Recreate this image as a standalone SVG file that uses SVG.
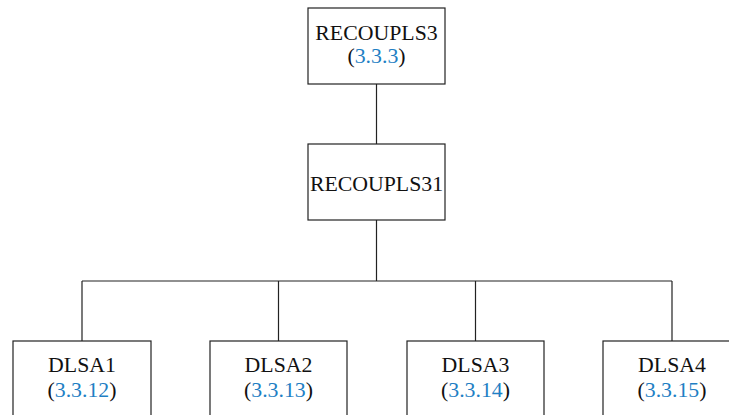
<svg xmlns="http://www.w3.org/2000/svg" width="729" height="415" viewBox="0 0 729 415">
  <style>
    .box { fill: #ffffff; stroke: #222222; stroke-width: 1.2; }
    .edge { fill: none; stroke: #222222; stroke-width: 1.2; }
    text { font-family: "Liberation Serif", "DejaVu Serif", serif; font-size: 21.8px; fill: #111111; text-anchor: middle; }
    .ref { fill: #1f7fc4; }
  </style>
  <rect width="729" height="415" fill="#ffffff"/>

  <g id="connectors">
    <path class="edge" d="M376.5 84 V144"/>
    <path class="edge" d="M376.5 220 V281 M82 281 H672 M82 281 V341 M278.5 281 V341 M475.5 281 V341 M672 281 V341"/>
  </g>

  <g id="recoupls3">
    <rect class="box" x="308" y="8" width="137" height="76"/>
    <text x="376.5" y="40">RECOUPLS3</text>
    <text x="376.5" y="63">(<tspan class="ref">3.3.3</tspan>)</text>
  </g>

  <g id="recoupls31">
    <rect class="box" x="308" y="144" width="137" height="76"/>
    <text x="376.5" y="191">RECOUPLS31</text>
  </g>

  <g id="dlsa1">
    <rect class="box" x="13" y="341" width="138" height="90"/>
    <text x="82" y="372">DLSA1</text>
    <text x="82" y="397">(<tspan class="ref">3.3.12</tspan>)</text>
  </g>

  <g id="dlsa2">
    <rect class="box" x="210" y="341" width="137" height="90"/>
    <text x="278.5" y="372">DLSA2</text>
    <text x="278.5" y="397">(<tspan class="ref">3.3.13</tspan>)</text>
  </g>

  <g id="dlsa3">
    <rect class="box" x="407" y="341" width="137" height="90"/>
    <text x="475.5" y="372">DLSA3</text>
    <text x="475.5" y="397">(<tspan class="ref">3.3.14</tspan>)</text>
  </g>

  <g id="dlsa4">
    <rect class="box" x="603" y="341" width="138" height="90"/>
    <text x="672" y="372">DLSA4</text>
    <text x="672" y="397">(<tspan class="ref">3.3.15</tspan>)</text>
  </g>
</svg>
